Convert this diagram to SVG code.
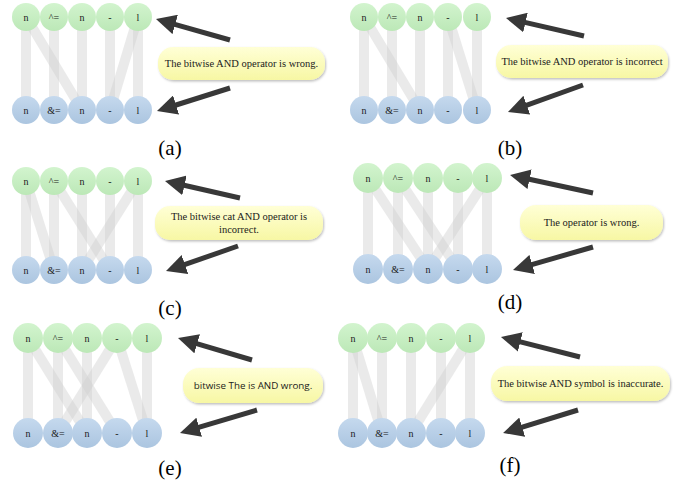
<svg xmlns="http://www.w3.org/2000/svg" width="678" height="492" viewBox="0 0 678 492">
<defs>
<linearGradient id="gTop" x1="0" y1="0" x2="0" y2="1"><stop offset="0" stop-color="#d2f4ce"/><stop offset="1" stop-color="#bce8b7"/></linearGradient>
<linearGradient id="gBot" x1="0" y1="0" x2="0" y2="1"><stop offset="0" stop-color="#c5d9ee"/><stop offset="1" stop-color="#abc5e0"/></linearGradient>
<linearGradient id="gBox" x1="0" y1="0" x2="0" y2="1"><stop offset="0" stop-color="#ffffd6"/><stop offset="1" stop-color="#f7f7a4"/></linearGradient>
<filter id="sh" x="-10%" y="-20%" width="125%" height="150%"><feDropShadow dx="1" dy="1.5" stdDeviation="1.2" flood-color="#000" flood-opacity="0.25"/></filter>
<marker id="ah" markerUnits="userSpaceOnUse" viewBox="0 0 20 20" markerWidth="20" markerHeight="20" refX="5" refY="10" orient="auto"><path d="M0,0 L20,10 L0,20 z" fill="#383838"/></marker>
</defs>
<style>
.top{fill:url(#gTop)}
.bot{fill:url(#gBot)}
.nt{font-family:"Liberation Serif",serif;font-size:10px;fill:#1a1a1a;text-anchor:middle}
.bar{stroke:#d0d0d0;stroke-opacity:0.45;stroke-width:10;fill:none}
.arr{stroke:#383838;stroke-width:5;fill:none;marker-end:url(#ah)}
.box{fill:url(#gBox);filter:url(#sh)}
.bt{font-family:"Liberation Serif",serif;font-size:10.5px;fill:#1a1a1a;text-anchor:middle}
.bs{font-family:"Open Sans","DejaVu Sans",sans-serif;font-size:9.8px;fill:#1a1a1a;text-anchor:middle}
.lab{font-family:"Liberation Serif",serif;font-size:21px;fill:#000;text-anchor:middle}
</style>
<g id="connectors">
<!-- a -->
<line class="bar" x1="26" y1="17" x2="26" y2="110"/><line class="bar" x1="26" y1="17" x2="82" y2="110"/><line class="bar" x1="54" y1="17" x2="54" y2="110"/><line class="bar" x1="82" y1="17" x2="82" y2="110"/><line class="bar" x1="110" y1="17" x2="110" y2="110"/><line class="bar" x1="138" y1="17" x2="110" y2="110"/><line class="bar" x1="138" y1="17" x2="138" y2="110"/>
<!-- b -->
<line class="bar" x1="364" y1="17" x2="364" y2="110"/><line class="bar" x1="364" y1="17" x2="420" y2="110"/><line class="bar" x1="392" y1="17" x2="392" y2="110"/><line class="bar" x1="420" y1="17" x2="420" y2="110"/><line class="bar" x1="448" y1="17" x2="448" y2="110"/><line class="bar" x1="448" y1="17" x2="477" y2="110"/><line class="bar" x1="477" y1="17" x2="477" y2="110"/>
<!-- c -->
<line class="bar" x1="26" y1="181" x2="26" y2="270"/><line class="bar" x1="26" y1="181" x2="54" y2="270"/><line class="bar" x1="54" y1="181" x2="54" y2="270"/><line class="bar" x1="54" y1="181" x2="110" y2="270"/><line class="bar" x1="82" y1="181" x2="82" y2="270"/><line class="bar" x1="110" y1="181" x2="110" y2="270"/><line class="bar" x1="138" y1="181" x2="82" y2="270"/><line class="bar" x1="138" y1="181" x2="138" y2="270"/>
<!-- d -->
<line class="bar" x1="368" y1="178" x2="368" y2="269"/><line class="bar" x1="368" y1="178" x2="428" y2="269"/><line class="bar" x1="398" y1="178" x2="398" y2="269"/><line class="bar" x1="398" y1="178" x2="458" y2="269"/><line class="bar" x1="428" y1="178" x2="428" y2="269"/><line class="bar" x1="458" y1="178" x2="458" y2="269"/><line class="bar" x1="487" y1="178" x2="428" y2="269"/><line class="bar" x1="487" y1="178" x2="487" y2="269"/>
<!-- e -->
<line class="bar" x1="28" y1="338" x2="28" y2="433"/><line class="bar" x1="28" y1="338" x2="87" y2="433"/><line class="bar" x1="58" y1="338" x2="58" y2="433"/><line class="bar" x1="58" y1="338" x2="117" y2="433"/><line class="bar" x1="87" y1="338" x2="87" y2="433"/><line class="bar" x1="117" y1="338" x2="58" y2="433"/><line class="bar" x1="117" y1="338" x2="147" y2="433"/><line class="bar" x1="147" y1="338" x2="147" y2="433"/>
<!-- f -->
<line class="bar" x1="353" y1="338" x2="353" y2="433"/><line class="bar" x1="353" y1="338" x2="382" y2="433"/><line class="bar" x1="382" y1="338" x2="382" y2="433"/><line class="bar" x1="411" y1="338" x2="411" y2="433"/><line class="bar" x1="441" y1="338" x2="441" y2="433"/><line class="bar" x1="470" y1="338" x2="411" y2="433"/><line class="bar" x1="470" y1="338" x2="470" y2="433"/>
<!-- arrows -->
<line class="arr" x1="230" y1="40" x2="170.4" y2="23.1"/><line class="arr" x1="230" y1="88" x2="171.3" y2="106.5"/>
<line class="arr" x1="584" y1="36" x2="520.6" y2="21.4"/><line class="arr" x1="583" y1="85" x2="522.1" y2="106.9"/>
<line class="arr" x1="240" y1="198" x2="179.6" y2="184.3"/><line class="arr" x1="238" y1="246" x2="180.2" y2="266.1"/>
<line class="arr" x1="593" y1="193" x2="524.7" y2="178.2"/><line class="arr" x1="593" y1="247" x2="527.4" y2="265.9"/>
<line class="arr" x1="252" y1="360" x2="192.4" y2="342.3"/><line class="arr" x1="257" y1="410" x2="194.4" y2="428.7"/>
<line class="arr" x1="580" y1="357" x2="515.5" y2="340.7"/><line class="arr" x1="578" y1="410" x2="517.4" y2="428.6"/>
</g>
<!-- panel a -->
<g id="a-t0"><circle class="top" cx="26" cy="17" r="14"/><text class="nt" x="26" y="20.5">n</text></g>
<g id="a-t1"><circle class="top" cx="54" cy="17" r="14"/><text class="nt" x="54" y="20.5">^=</text></g>
<g id="a-t2"><circle class="top" cx="82" cy="17" r="14"/><text class="nt" x="82" y="20.5">n</text></g>
<g id="a-t3"><circle class="top" cx="110" cy="17" r="14"/><text class="nt" x="110" y="20.5">-</text></g>
<g id="a-t4"><circle class="top" cx="138" cy="17" r="14"/><text class="nt" x="138" y="20.5">l</text></g>
<g id="a-b0"><circle class="bot" cx="26" cy="110" r="14"/><text class="nt" x="26" y="113.5">n</text></g>
<g id="a-b1"><circle class="bot" cx="54" cy="110" r="14"/><text class="nt" x="54" y="113.5">&amp;=</text></g>
<g id="a-b2"><circle class="bot" cx="82" cy="110" r="14"/><text class="nt" x="82" y="113.5">n</text></g>
<g id="a-b3"><circle class="bot" cx="110" cy="110" r="14"/><text class="nt" x="110" y="113.5">-</text></g>
<g id="a-b4"><circle class="bot" cx="138" cy="110" r="14"/><text class="nt" x="138" y="113.5">l</text></g>
<g id="a-note"><rect class="box" x="158" y="47" width="167" height="33" rx="15"/><text class="bt" x="241.5" y="67">The bitwise AND operator is wrong.</text></g>
<text class="lab" x="170" y="155">(a)</text>
<!-- panel b -->
<g id="b-t0"><circle class="top" cx="364" cy="17" r="14"/><text class="nt" x="364" y="20.5">n</text></g>
<g id="b-t1"><circle class="top" cx="392" cy="17" r="14"/><text class="nt" x="392" y="20.5">^=</text></g>
<g id="b-t2"><circle class="top" cx="420" cy="17" r="14"/><text class="nt" x="420" y="20.5">n</text></g>
<g id="b-t3"><circle class="top" cx="448" cy="17" r="14"/><text class="nt" x="448" y="20.5">-</text></g>
<g id="b-t4"><circle class="top" cx="477" cy="17" r="14"/><text class="nt" x="477" y="20.5">l</text></g>
<g id="b-b0"><circle class="bot" cx="364" cy="110" r="14"/><text class="nt" x="364" y="113.5">n</text></g>
<g id="b-b1"><circle class="bot" cx="392" cy="110" r="14"/><text class="nt" x="392" y="113.5">&amp;=</text></g>
<g id="b-b2"><circle class="bot" cx="420" cy="110" r="14"/><text class="nt" x="420" y="113.5">n</text></g>
<g id="b-b3"><circle class="bot" cx="448" cy="110" r="14"/><text class="nt" x="448" y="113.5">-</text></g>
<g id="b-b4"><circle class="bot" cx="477" cy="110" r="14"/><text class="nt" x="477" y="113.5">l</text></g>
<g id="b-note"><rect class="box" x="496" y="45" width="172" height="33" rx="15"/><text class="bt" x="582" y="65">The bitwise AND operator is incorrect</text></g>
<text class="lab" x="510" y="155">(b)</text>
<!-- panel c -->
<g id="c-t0"><circle class="top" cx="26" cy="181" r="14"/><text class="nt" x="26" y="184.5">n</text></g>
<g id="c-t1"><circle class="top" cx="54" cy="181" r="14"/><text class="nt" x="54" y="184.5">^=</text></g>
<g id="c-t2"><circle class="top" cx="82" cy="181" r="14"/><text class="nt" x="82" y="184.5">n</text></g>
<g id="c-t3"><circle class="top" cx="110" cy="181" r="14"/><text class="nt" x="110" y="184.5">-</text></g>
<g id="c-t4"><circle class="top" cx="138" cy="181" r="14"/><text class="nt" x="138" y="184.5">l</text></g>
<g id="c-b0"><circle class="bot" cx="26" cy="270" r="14"/><text class="nt" x="26" y="273.5">n</text></g>
<g id="c-b1"><circle class="bot" cx="54" cy="270" r="14"/><text class="nt" x="54" y="273.5">&amp;=</text></g>
<g id="c-b2"><circle class="bot" cx="82" cy="270" r="14"/><text class="nt" x="82" y="273.5">n</text></g>
<g id="c-b3"><circle class="bot" cx="110" cy="270" r="14"/><text class="nt" x="110" y="273.5">-</text></g>
<g id="c-b4"><circle class="bot" cx="138" cy="270" r="14"/><text class="nt" x="138" y="273.5">l</text></g>
<g id="c-note"><rect class="box" x="155" y="206" width="168" height="34" rx="15"/><text class="bt" x="239" y="220">The bitwise cat AND operator is</text><text class="bt" x="239" y="232.5">incorrect.</text></g>
<text class="lab" x="170" y="315">(c)</text>
<!-- panel d -->
<g id="d-t0"><circle class="top" cx="368" cy="178" r="15"/><text class="nt" x="368" y="181.5">n</text></g>
<g id="d-t1"><circle class="top" cx="398" cy="178" r="15"/><text class="nt" x="398" y="181.5">^=</text></g>
<g id="d-t2"><circle class="top" cx="428" cy="178" r="15"/><text class="nt" x="428" y="181.5">n</text></g>
<g id="d-t3"><circle class="top" cx="458" cy="178" r="15"/><text class="nt" x="458" y="181.5">-</text></g>
<g id="d-t4"><circle class="top" cx="487" cy="178" r="15"/><text class="nt" x="487" y="181.5">l</text></g>
<g id="d-b0"><circle class="bot" cx="368" cy="269" r="15"/><text class="nt" x="368" y="272.5">n</text></g>
<g id="d-b1"><circle class="bot" cx="398" cy="269" r="15"/><text class="nt" x="398" y="272.5">&amp;=</text></g>
<g id="d-b2"><circle class="bot" cx="428" cy="269" r="15"/><text class="nt" x="428" y="272.5">n</text></g>
<g id="d-b3"><circle class="bot" cx="458" cy="269" r="15"/><text class="nt" x="458" y="272.5">-</text></g>
<g id="d-b4"><circle class="bot" cx="487" cy="269" r="15"/><text class="nt" x="487" y="272.5">l</text></g>
<g id="d-note"><rect class="box" x="520" y="205" width="143" height="35" rx="16"/><text class="bt" x="591.5" y="226">The operator is wrong.</text></g>
<text class="lab" x="510" y="309">(d)</text>
<!-- panel e -->
<g id="e-t0"><circle class="top" cx="28" cy="338" r="15"/><text class="nt" x="28" y="341.5">n</text></g>
<g id="e-t1"><circle class="top" cx="58" cy="338" r="15"/><text class="nt" x="58" y="341.5">^=</text></g>
<g id="e-t2"><circle class="top" cx="87" cy="338" r="15"/><text class="nt" x="87" y="341.5">n</text></g>
<g id="e-t3"><circle class="top" cx="117" cy="338" r="15"/><text class="nt" x="117" y="341.5">-</text></g>
<g id="e-t4"><circle class="top" cx="147" cy="338" r="15"/><text class="nt" x="147" y="341.5">l</text></g>
<g id="e-b0"><circle class="bot" cx="28" cy="433" r="15"/><text class="nt" x="28" y="436.5">n</text></g>
<g id="e-b1"><circle class="bot" cx="58" cy="433" r="15"/><text class="nt" x="58" y="436.5">&amp;=</text></g>
<g id="e-b2"><circle class="bot" cx="87" cy="433" r="15"/><text class="nt" x="87" y="436.5">n</text></g>
<g id="e-b3"><circle class="bot" cx="117" cy="433" r="15"/><text class="nt" x="117" y="436.5">-</text></g>
<g id="e-b4"><circle class="bot" cx="147" cy="433" r="15"/><text class="nt" x="147" y="436.5">l</text></g>
<g id="e-note"><rect class="box" x="183" y="368" width="140" height="35" rx="16"/><text class="bs" x="253" y="389">bitwise The is AND wrong.</text></g>
<text class="lab" x="170" y="475">(e)</text>
<!-- panel f -->
<g id="f-t0"><circle class="top" cx="353" cy="338" r="15"/><text class="nt" x="353" y="341.5">n</text></g>
<g id="f-t1"><circle class="top" cx="382" cy="338" r="15"/><text class="nt" x="382" y="341.5">^=</text></g>
<g id="f-t2"><circle class="top" cx="411" cy="338" r="15"/><text class="nt" x="411" y="341.5">n</text></g>
<g id="f-t3"><circle class="top" cx="441" cy="338" r="15"/><text class="nt" x="441" y="341.5">-</text></g>
<g id="f-t4"><circle class="top" cx="470" cy="338" r="15"/><text class="nt" x="470" y="341.5">l</text></g>
<g id="f-b0"><circle class="bot" cx="353" cy="433" r="15"/><text class="nt" x="353" y="436.5">n</text></g>
<g id="f-b1"><circle class="bot" cx="382" cy="433" r="15"/><text class="nt" x="382" y="436.5">&amp;=</text></g>
<g id="f-b2"><circle class="bot" cx="411" cy="433" r="15"/><text class="nt" x="411" y="436.5">n</text></g>
<g id="f-b3"><circle class="bot" cx="441" cy="433" r="15"/><text class="nt" x="441" y="436.5">-</text></g>
<g id="f-b4"><circle class="bot" cx="470" cy="433" r="15"/><text class="nt" x="470" y="436.5">l</text></g>
<g id="f-note"><rect class="box" x="491" y="366" width="179" height="35" rx="16"/><text class="bt" x="580.5" y="387">The bitwise AND symbol is inaccurate.</text></g>
<text class="lab" x="510" y="472">(f)</text>
</svg>
